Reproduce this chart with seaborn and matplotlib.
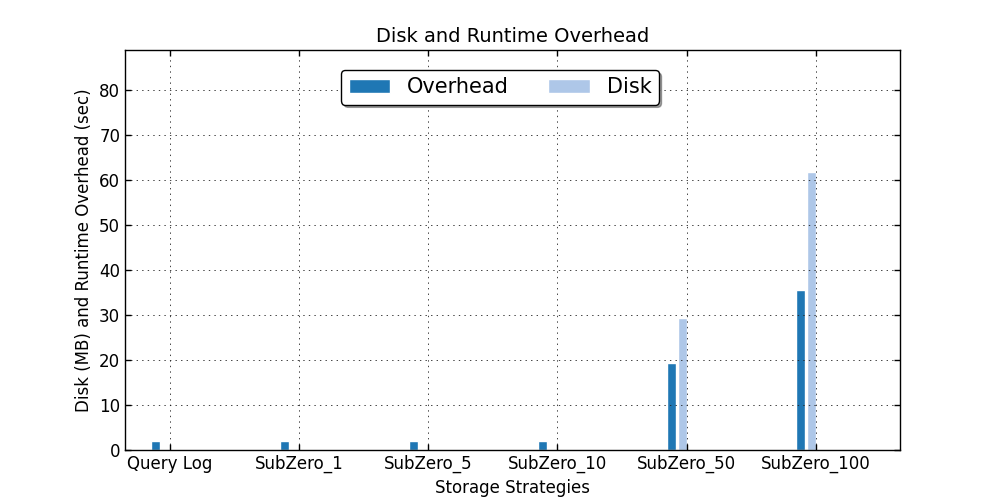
import numpy as np
import pandas as pd
import matplotlib
matplotlib.use("Agg")
import matplotlib.pyplot as plt
import seaborn as sns

strategies = ["Query Log", "SubZero_1", "SubZero_5", "SubZero_10", "SubZero_50", "SubZero_100"]
overhead = [2.0, 2.0, 2.0, 2.0, 19.3, 35.5]
disk = [0.0, 0.0, 0.0, 0.0, 29.3, 61.8]

sns.set_style("white")
plt.rcParams["font.family"] = ["DejaVu Sans"]
plt.rcParams["text.color"] = "black"
plt.rcParams["axes.labelcolor"] = "black"
plt.rcParams["xtick.color"] = "black"
plt.rcParams["ytick.color"] = "black"
plt.rcParams["lines.scale_dashes"] = False

df = pd.DataFrame({
    "Strategy": strategies * 2,
    "Value": overhead + disk,
    "Kind": ["Overhead"] * len(strategies) + ["Disk"] * len(strategies),
})

fig, ax = plt.subplots(figsize=(10, 5), dpi=100)
fig.subplots_adjust(left=0.125, right=0.9, bottom=0.1, top=0.9)

sns.barplot(data=df, x="Strategy", y="Value", hue="Kind", order=strategies,
            hue_order=["Overhead", "Disk"], palette=["#1f77b4", "#aec7e8"],
            saturation=1, width=0.16, gap=0.12, errorbar=None, ax=ax)

edge = 0.0752
ticks = np.arange(len(strategies)) + edge
ax.set_xticks(ticks)
ax.set_xticklabels(strategies, fontsize=12)
ax.set_xlim(edge - 0.348, edge - 0.348 + 6.0)
ax.set_ylim(0, 88.9)
ax.set_yticks(np.arange(0, 81, 10))
ax.tick_params(axis="y", labelsize=12)

ax.tick_params(direction="in", length=4, width=1, top=True, right=True,
               bottom=True, left=True, color="black")
for s in ax.spines.values():
    s.set_visible(True)
    s.set_color("black")
    s.set_linewidth(1)

ax.grid(True, linestyle=(0, (1, 3)), color="#222222", linewidth=0.6)
ax.set_axisbelow(False)

ax.set_title("Disk and Runtime Overhead", fontsize=14)
ax.set_xlabel("Storage Strategies", fontsize=12)
ax.set_ylabel("Disk (MB) and Runtime Overhead (sec)", fontsize=12)

handles, labels = ax.get_legend_handles_labels()
leg = ax.legend(handles, labels, loc="upper center", ncol=2, fontsize=15,
                bbox_to_anchor=(0.5, 0.86), bbox_transform=fig.transFigure,
                borderaxespad=0, shadow=True, fancybox=True, frameon=True,
                columnspacing=1.9, handletextpad=0.8, handlelength=2.0,
                borderpad=0.35)
leg.get_frame().set_edgecolor("black")
leg.get_frame().set_linewidth(1)
leg.get_frame().set_alpha(1)

fig.savefig("out.png", dpi=100, facecolor="white")
